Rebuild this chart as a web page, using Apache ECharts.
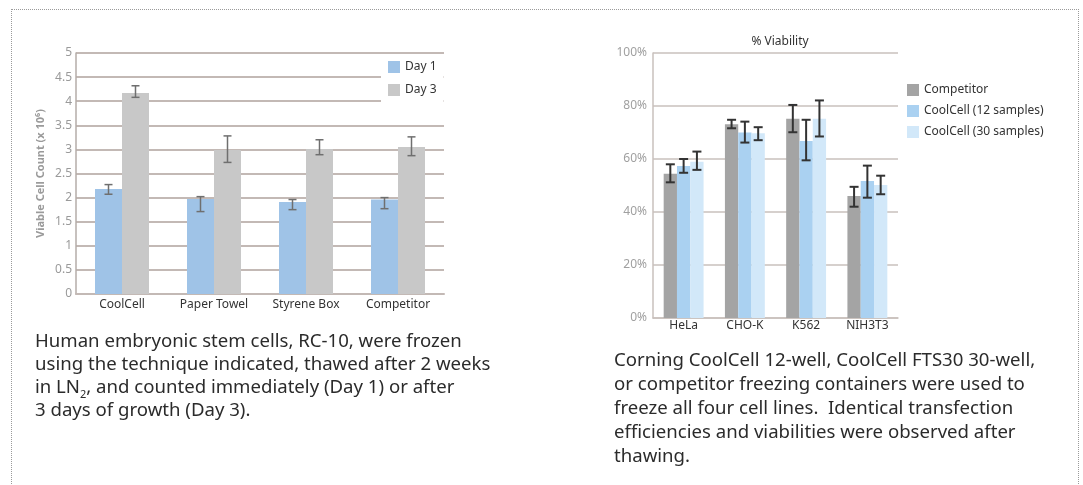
<!DOCTYPE html>
<html>
<head>
<meta charset="utf-8">
<script src="https://cdn.jsdelivr.net/npm/echarts@6/dist/echarts.min.js"></script>
<style>
  html, body { margin: 0; padding: 0; background: #fff; }
  #wrap { position: relative; width: 1083px; height: 485px; overflow: hidden; }
  #chart { position: absolute; left: 0; top: 0; width: 1083px; height: 485px; }
  #frame { position: absolute; left: 11px; top: 9px; width: 1066px; height: 600px;
           border-left: 1px dotted #9a9a9a; border-top: 1px dotted #9a9a9a; border-right: 1px dotted #9a9a9a; }
  .cap { position: absolute; font-family: "Noto Sans", "Open Sans", sans-serif; font-size: 18.6px; color: #2b2b2b; letter-spacing: 0px; white-space: nowrap; }
  .cap sub { font-size: 11px; line-height: 0; }
  #capL { left: 35px; top: 328px; line-height: 23px; }
  #capR { left: 614px; top: 347px; line-height: 24px; }
</style>
</head>
<body>
<div id="wrap">
  <div id="chart"></div>
  <div id="frame"></div>
  <div class="cap" id="capL">Human embryonic stem cells, RC-10, were frozen<br>using the technique indicated, thawed after 2 weeks<br>in LN<sub>2</sub>, and counted immediately (Day 1) or after<br>3 days of growth (Day 3).</div>
  <div class="cap" id="capR">Corning CoolCell 12-well, CoolCell FTS30 30-well,<br>or competitor freezing containers were used to<br>freeze all four cell lines.&nbsp; Identical transfection<br>efficiencies and viabilities were observed after<br>thawing.</div>
</div>
<script>
// ---- Left chart data ----
const leftCategories = ['CoolCell', 'Paper Towel', 'Styrene Box', 'Competitor'];
const day1 = [2.18, 1.97, 1.91, 1.96];
const day1Low = [2.07, 1.71, 1.75, 1.77];
const day1High = [2.27, 2.02, 1.96, 2.00];
const day3 = [4.17, 2.99, 3.01, 3.05];
const day3Low = [4.08, 2.73, 2.89, 2.87];
const day3High = [4.32, 3.28, 3.20, 3.26];

// ---- Right chart data ----
const rightCategories = ['HeLa', 'CHO-K', 'K562', 'NIH3T3'];
const competitor = [54.4, 73.1, 75.2, 46.0];
const competitorLow = [51.2, 71.6, 70.1, 42.0];
const competitorHigh = [58.0, 74.8, 80.4, 49.5];
const cc12 = [57.4, 70.0, 66.8, 51.7];
const cc12Low = [54.8, 66.2, 59.5, 45.4];
const cc12High = [60.0, 74.1, 74.8, 57.5];
const cc30 = [59.0, 69.7, 75.2, 50.2];
const cc30Low = [55.9, 67.1, 68.5, 46.7];
const cc30High = [62.8, 72.0, 82.1, 53.7];

const FONT = '"Noto Sans", "Open Sans", sans-serif';
const BW_L = 27;
const BW_R = 13.3;

function errData(lo, hi) { return lo.map((v, i) => [i, v, hi[i]]); }

function errSeries(name, xi, yi, lo, hi, offset, color, lw, cap) {
  return {
    type: 'custom', name: name, xAxisIndex: xi, yAxisIndex: yi, z: 5,
    data: errData(lo, hi),
    encode: { x: 0, y: [1, 2] },
    silent: true,
    renderItem: function (params, api) {
      const c = api.value(0);
      const pLo = api.coord([c, api.value(1)]);
      const pHi = api.coord([c, api.value(2)]);
      const x = pLo[0] + offset;
      const st = { stroke: color, lineWidth: lw };
      return {
        type: 'group',
        children: [
          { type: 'line', shape: { x1: x, y1: pLo[1], x2: x, y2: pHi[1] }, style: st },
          { type: 'line', shape: { x1: x - cap, y1: pLo[1], x2: x + cap, y2: pLo[1] }, style: st },
          { type: 'line', shape: { x1: x - cap, y1: pHi[1], x2: x + cap, y2: pHi[1] }, style: st }
        ]
      };
    }
  };
}

const chart = echarts.init(document.getElementById('chart'), null, { renderer: 'canvas' });
const gridColL = '#c3b9b5';
const gridColR = '#c9c0bc';

chart.setOption({
  animation: false,
  textStyle: { fontFamily: FONT },
  title: {
    text: '% Viability', left: 775, top: 31, textAlign: 'center',
    textStyle: { fontFamily: FONT, fontSize: 12, fontWeight: 'normal', color: '#333' }
  },
  legend: [
    {
      data: ['Day 1', 'Day 3'], orient: 'vertical', left: 381, top: 54,
      backgroundColor: '#fff', padding: [6, 7, 5, 7], itemWidth: 12, itemHeight: 12, itemGap: 9,
      icon: 'rect', textStyle: { fontFamily: FONT, fontSize: 12, color: '#333', lineHeight: 14 }
    },
    {
      data: ['Competitor', 'CoolCell (12 samples)', 'CoolCell (30 samples)'], orient: 'vertical',
      left: 903, top: 80, padding: [3, 4], itemWidth: 12, itemHeight: 12, itemGap: 7,
      icon: 'rect', textStyle: { fontFamily: FONT, fontSize: 12, color: '#333', lineHeight: 14 }
    }
  ],
  grid: [
    { left: 76, top: 53, width: 368, height: 241 },
    { left: 653, top: 53, width: 245, height: 265 }
  ],
  xAxis: [
    {
      type: 'category', gridIndex: 0, data: leftCategories,
      axisLine: { lineStyle: { color: gridColL, width: 2 } },
      axisTick: { show: false },
      axisLabel: { fontFamily: FONT, fontSize: 12, color: '#333', margin: 5 }
    },
    {
      type: 'category', gridIndex: 1, data: rightCategories,
      axisLine: { lineStyle: { color: gridColR, width: 1.5 } },
      axisTick: { show: false },
      axisLabel: { fontFamily: FONT, fontSize: 12, color: '#333', margin: 2 }
    }
  ],
  yAxis: [
    {
      type: 'value', gridIndex: 0, min: 0, max: 5, interval: 0.5,
      name: 'Viable Cell Count (x 10\u2076)', nameLocation: 'middle', nameGap: 30,
      nameTextStyle: { fontFamily: FONT, fontSize: 11, fontWeight: 'bold', color: '#9a9a9a' },
      axisLine: { show: true, lineStyle: { color: '#b5aca9', width: 1.5 } },
      axisTick: { show: false },
      splitLine: { lineStyle: { color: gridColL, width: 2 } },
      axisLabel: { fontFamily: FONT, fontSize: 12, color: '#9a9a9a', margin: 4 }
    },
    {
      type: 'value', gridIndex: 1, min: 0, max: 100, interval: 20,
      axisLine: { show: true, lineStyle: { color: gridColR, width: 1.5 } },
      axisTick: { show: false },
      splitLine: { lineStyle: { color: gridColR, width: 1.5 } },
      axisLabel: { fontFamily: FONT, fontSize: 12, color: '#a0a0a0', margin: 6, formatter: '{value}%' }
    }
  ],
  series: [
    { type: 'bar', name: 'Day 1', xAxisIndex: 0, yAxisIndex: 0, data: day1, barWidth: BW_L, barGap: '0%',
      itemStyle: { color: '#9fc3e7' } },
    { type: 'bar', name: 'Day 3', xAxisIndex: 0, yAxisIndex: 0, data: day3, barWidth: BW_L, barGap: '0%',
      itemStyle: { color: '#c8c8c8' } },
    errSeries('errD1', 0, 0, day1Low, day1High, -BW_L / 2, '#6f6f6f', 1.5, 4),
    errSeries('errD3', 0, 0, day3Low, day3High, BW_L / 2, '#6f6f6f', 1.5, 4),

    { type: 'bar', name: 'Competitor', xAxisIndex: 1, yAxisIndex: 1, data: competitor, barWidth: BW_R, barGap: '0%',
      itemStyle: { color: '#a4a4a4' } },
    { type: 'bar', name: 'CoolCell (12 samples)', xAxisIndex: 1, yAxisIndex: 1, data: cc12, barWidth: BW_R, barGap: '0%',
      itemStyle: { color: '#aad1f1' } },
    { type: 'bar', name: 'CoolCell (30 samples)', xAxisIndex: 1, yAxisIndex: 1, data: cc30, barWidth: BW_R, barGap: '0%',
      itemStyle: { color: '#d2e8f9' } },
    errSeries('errC', 1, 1, competitorLow, competitorHigh, -BW_R, '#333333', 2, 4.5),
    errSeries('err12', 1, 1, cc12Low, cc12High, 0, '#333333', 2, 4.5),
    errSeries('err30', 1, 1, cc30Low, cc30High, BW_R, '#333333', 2, 4.5)
  ]
});
</script>
</body>
</html>
